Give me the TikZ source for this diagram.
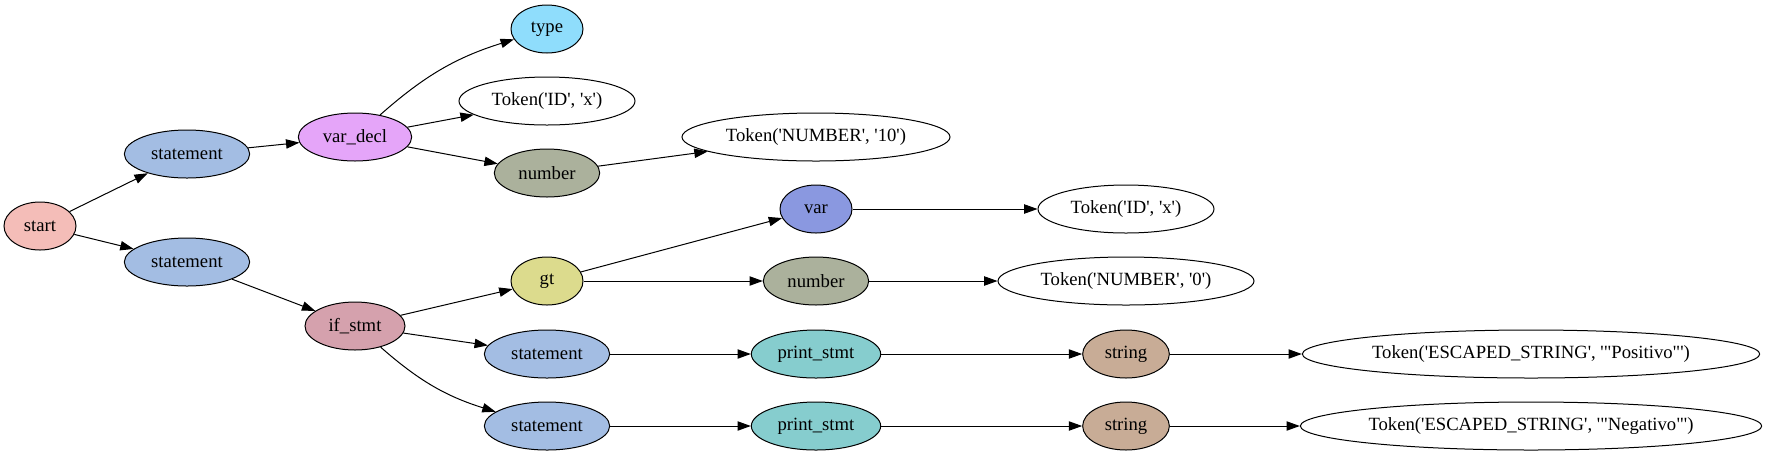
\documentclass[tikz,border=0pt]{standalone}
\usepackage{fontspec}
\newfontfamily\gvfont{Liberation Serif}
\usetikzlibrary{shapes.geometric,arrows.meta}
\definecolor{cstart}{HTML}{F4BDB8}
\definecolor{cstmt}{HTML}{A3BDE3}
\definecolor{cvardecl}{HTML}{E5A5F9}
\definecolor{ctype}{HTML}{8FDDFC}
\definecolor{cnumber}{HTML}{ABB19C}
\definecolor{cifstmt}{HTML}{D5A1AD}
\definecolor{cgt}{HTML}{DCDB8D}
\definecolor{cvar}{HTML}{8A98E0}
\definecolor{cprint}{HTML}{86CDCE}
\definecolor{cstring}{HTML}{C8AC96}
\begin{document}
\begin{tikzpicture}[x=0.75pt,y=-0.75pt,
        every node/.style={font=\gvfont\fontsize{14}{16}\selectfont},
        gv/.style={ellipse,draw,line width=0.75pt,inner sep=0pt,minimum height=36pt,minimum width=54pt},
        stmtnode/.style={gv,fill=cstmt,minimum width=94pt},
        numnode/.style={gv,fill=cnumber,minimum width=79pt},
        printnode/.style={gv,fill=cprint,minimum width=97pt},
        strnode/.style={gv,fill=cstring,minimum width=65pt},
        tok/.style={gv,fill=white},
        link/.style={-{Triangle[length=10pt,width=7pt]},line width=0.75pt}]
        \useasboundingbox (0,0) rectangle (1767,455);
        \node[gv,fill=cstart] (start) at (40,226) {start};
        \node[stmtnode] (stmtA) at (187,154) {statement};
        \node[stmtnode] (stmtB) at (187,262) {statement};
        \node[gv,fill=cvardecl,minimum width=85pt] (vardecl) at (355,137) {var\_decl};
        \node[gv,fill=cifstmt,minimum width=75pt] (ifstmt) at (355,326) {if\_stmt};
        \node[gv,fill=ctype] (type) at (547,29) {type};
        \node[tok,minimum width=132pt] (tokidA) at (547,101) {Token('ID', 'x')};
        \node[numnode] (numA) at (547,173) {number};
        \node[gv,fill=cgt] (gt) at (547,281) {gt};
        \node[stmtnode] (stmtC) at (547,354) {statement};
        \node[stmtnode] (stmtD) at (547,426) {statement};
        \node[tok,minimum width=201pt] (tokten) at (816,137) {Token('NUMBER', '10')};
        \node[gv,fill=cvar] (var) at (816,209) {var};
        \node[numnode] (numB) at (816,281) {number};
        \node[printnode] (printA) at (816,354) {print\_stmt};
        \node[printnode] (printB) at (816,426) {print\_stmt};
        \node[tok,minimum width=132pt] (tokidB) at (1126,209) {Token('ID', 'x')};
        \node[tok,minimum width=192pt] (tokzero) at (1126,281) {Token('NUMBER', '0')};
        \node[strnode] (strA) at (1126,354) {string};
        \node[strnode] (strB) at (1126,426) {string};
        \node[tok,minimum width=343pt] (tokpos) at (1531,354) {Token('ESCAPED\_STRING', '"Positivo"')};
        \node[tok,minimum width=346pt] (tokneg) at (1531,426) {Token('ESCAPED\_STRING', '"Negativo"')};
        \draw[link] (start) -- (stmtA);
        \draw[link] (start) -- (stmtB);
        \draw[link] (stmtA) -- (vardecl);
        \draw[link] (stmtB) -- (ifstmt);
        \draw[link] (vardecl) to[bend left=12] (type);
        \draw[link] (vardecl) -- (tokidA);
        \draw[link] (vardecl) -- (numA);
        \draw[link] (numA) -- (tokten);
        \draw[link] (ifstmt) -- (gt);
        \draw[link] (ifstmt) -- (stmtC);
        \draw[link] (ifstmt) to[bend right=12] (stmtD);
        \draw[link] (gt) -- (var);
        \draw[link] (gt) -- (numB);
        \draw[link] (var) -- (tokidB);
        \draw[link] (numB) -- (tokzero);
        \draw[link] (stmtC) -- (printA);
        \draw[link] (stmtD) -- (printB);
        \draw[link] (printA) -- (strA);
        \draw[link] (printB) -- (strB);
        \draw[link] (strA) -- (tokpos);
        \draw[link] (strB) -- (tokneg);
\end{tikzpicture}
\end{document}
